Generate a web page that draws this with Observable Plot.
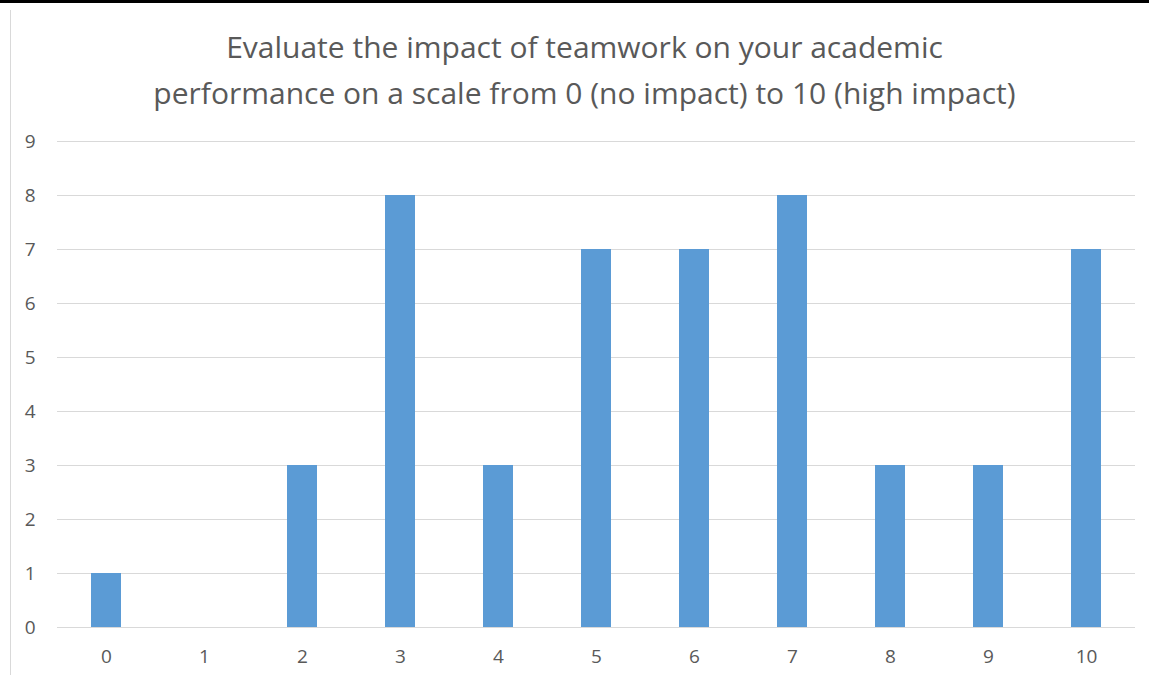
<!DOCTYPE html>
<html>
<head>
<meta charset="utf-8">
<script src="https://cdn.jsdelivr.net/npm/d3@7"></script>
<script src="https://cdn.jsdelivr.net/npm/@observablehq/plot@0.6"></script>
<style>
  html, body { margin: 0; padding: 0; background: #fff; }
  #wrap { position: relative; width: 1149px; height: 675px; overflow: hidden; font-family: "Open Sans", sans-serif; }
  #topline { position: absolute; left: 0; top: 0; width: 1149px; height: 3px; background: #000; }
  #leftline { position: absolute; left: 10px; top: 10px; width: 1px; height: 665px; background: #d9d9d9; }
  #title { position: absolute; left: 0; top: 24px; width: 1169px; text-align: center; color: #595959; font-size: 30px; line-height: 46px; white-space: nowrap; }
  #chart { position: absolute; left: 0; top: 120px; }
</style>
</head>
<body>
<div id="wrap">
  <div id="topline"></div>
  <div id="leftline"></div>
  <div id="title">Evaluate the impact of teamwork on your academic<br>performance on a scale from 0 (no impact) to 10 (high impact)</div>
  <div id="chart"></div>
</div>
<script>
const ratings = ["0","1","2","3","4","5","6","7","8","9","10"];
const counts = [1, 0, 3, 8, 3, 7, 7, 8, 3, 3, 7];
const yTicks = [0,1,2,3,4,5,6,7,8,9];

const data = ratings.map((r, i) => ({rating: r, count: counts[i]}));

const plot = Plot.plot({
  width: 1149,
  height: 555,
  marginLeft: 57,
  marginRight: 14,
  marginTop: 21,
  marginBottom: 48,
  style: {fontFamily: "'Open Sans', sans-serif", fontSize: "19px", color: "#595959", background: "transparent"},
  x: {domain: ratings, paddingInner: 0.69, paddingOuter: 0.345, label: null},
  y: {domain: [0, 9], label: null},
  marks: [
    Plot.ruleY(yTicks, {stroke: "#d9d9d9", strokeWidth: 1}),
    Plot.barY(data, {x: "rating", y: "count", fill: "#5b9bd5"}),
    Plot.axisY({ticks: yTicks, tickSize: 0, tickPadding: 22, label: null, fontSize: 19, fill: "#595959"}),
    Plot.axisX({tickSize: 0, tickPadding: 22, label: null, fontSize: 19, fill: "#595959"})
  ]
});
document.getElementById("chart").appendChild(plot);
</script>
</body>
</html>
